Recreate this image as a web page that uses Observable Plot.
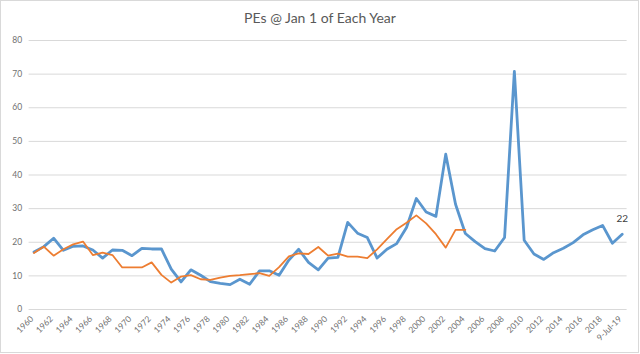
<!DOCTYPE html>
<html><head><meta charset="utf-8">
<script src="https://cdn.jsdelivr.net/npm/d3@7"></script>
<script src="https://cdn.jsdelivr.net/npm/@observablehq/plot@0.6"></script>
<style>
html,body{margin:0;padding:0;background:#fff;}
#wrap{position:relative;width:640px;height:354px;overflow:hidden;}
#frame{position:absolute;left:0;top:0;width:639px;height:353px;border:1px solid #d9d9d9;box-sizing:border-box;pointer-events:none;}
#title{position:absolute;top:9px;left:0;width:640px;text-align:center;font-family:Lato,sans-serif;font-size:14px;color:#595959;}
#chart svg{display:block;}
</style>
</head><body>
<div id="wrap"><div id="chart"></div><div id="title">PEs @ Jan 1 of Each Year</div><div id="frame"></div></div>
<script>
const categories = ["1960","1961","1962","1963","1964","1965","1966","1967","1968","1969",
"1970","1971","1972","1973","1974","1975","1976","1977","1978","1979",
"1980","1981","1982","1983","1984","1985","1986","1987","1988","1989",
"1990","1991","1992","1993","1994","1995","1996","1997","1998","1999",
"2000","2001","2002","2003","2004","2005","2006","2007","2008","2009",
"2010","2011","2012","2013","2014","2015","2016","2017","2018","2019","9-Jul-19"];

const tickLabels = ["1960","1962","1964","1966","1968","1970","1972","1974","1976","1978",
"1980","1982","1984","1986","1988","1990","1992","1994","1996","1998",
"2000","2002","2004","2006","2008","2010","2012","2014","2016","2018","9-Jul-19"];

const yTicks = [0,10,20,30,40,50,60,70,80];

// blue series (1960 .. 9-Jul-19)
const bluePE = [17.1,18.7,21.2,17.6,18.8,18.9,17.7,15.3,17.7,17.6,
16.0,18.2,18.0,18.0,12.0,8.2,11.8,10.2,8.3,7.8,
7.4,9.0,7.5,11.5,11.5,10.2,14.7,17.9,14.0,11.8,
15.3,15.5,25.9,22.7,21.4,15.3,17.9,19.6,24.4,33.0,
29.0,27.7,46.2,31.3,22.6,20.2,18.1,17.4,21.4,70.8,
20.6,16.5,14.9,16.9,18.2,19.9,22.2,23.7,25.0,19.7,22.4];

// orange series (1960 .. 2004)
const orangePE = [16.8,18.7,16.0,17.9,19.4,20.2,16.2,16.9,16.2,12.5,
12.5,12.5,14.0,10.3,8.0,9.8,10.2,9.0,8.8,9.5,
10.0,10.2,10.5,10.8,10.0,12.6,15.8,16.7,16.5,18.6,
16.0,16.6,15.7,15.7,15.3,17.9,20.9,23.9,25.8,28.0,
25.6,22.4,18.4,23.7,23.7];

const lastLabel = ["22"];

const blueRows = bluePE.map((v,i)=>({cat:categories[i], v}));
const orangeRows = orangePE.map((v,i)=>({cat:categories[i], v}));
const labelRows = [{cat:categories[bluePE.length-1], v:bluePE[bluePE.length-1], t:lastLabel[0]}];

const chart = Plot.plot({
  width:640, height:354,
  marginTop:40, marginBottom:45, marginLeft:28.6, marginRight:13.4,
  style:{fontFamily:"Lato, sans-serif", background:"transparent"},
  x:{type:"point", domain:categories, padding:0.5, label:null},
  y:{domain:[0,80], label:null},
  marks:[
    Plot.gridY(yTicks,{stroke:"#d9d9d9", strokeOpacity:1}),
    Plot.axisY(yTicks,{tickSize:0, tickPadding:7, fontSize:8.5, fill:"#707070", label:null}),
    Plot.axisX(tickLabels,{tickSize:0, tickRotate:-45, tickPadding:8, dx:-2, fontSize:8.5, fill:"#707070", label:null}),
    Plot.lineY(blueRows,{x:"cat", y:"v", stroke:"#5A96CE", strokeWidth:2.8, strokeLinejoin:"round"}),
    Plot.lineY(orangeRows,{x:"cat", y:"v", stroke:"#ED7D31", strokeWidth:1.8, strokeLinejoin:"round"}),
    Plot.text(labelRows,{x:"cat", y:"v", text:"t", dy:-15, fontSize:10, fill:"#404040"})
  ]
});
document.getElementById("chart").appendChild(chart);
</script>
</body></html>
